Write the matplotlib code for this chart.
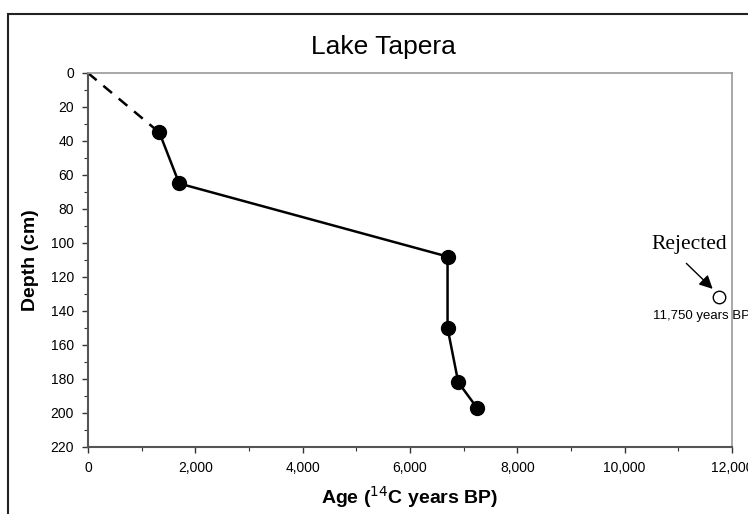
import numpy as np
import matplotlib.pyplot as plt
from matplotlib.patches import Rectangle

plt.rcParams['font.family'] = ['Liberation Sans', 'DejaVu Sans']

# Radiocarbon dates (accepted)
ages = [1330, 1700, 6700, 6700, 6900, 7250]
depths = [35, 65, 108, 150, 182, 197]

# Extrapolation to surface
surface_age = [0, 1330]
surface_depth = [0, 35]

# Rejected date
rejected_age = [11750]
rejected_depth = [132]

x_ticks = np.arange(0, 12001, 2000)
y_ticks = np.arange(0, 221, 20)

fig = plt.figure(figsize=(7.48, 5.14), dpi=100)
ax = fig.add_axes([0.1176, 0.1304, 0.8610, 0.7276])

# outer frame
fig.patches.append(Rectangle((8 / 748, -0.2), 1.2, 0.2 + 1 - 14 / 514,
                             transform=fig.transFigure, fill=False,
                             edgecolor="#222222", linewidth=1.5))

ax.plot(surface_age, surface_depth, color="black", linestyle=(0, (4.5, 3.5)),
        linewidth=1.8)
ax.plot(ages, depths, color="black", linewidth=1.8, marker="o",
        markersize=10)
ax.plot(rejected_age, rejected_depth, linestyle="none", marker="o",
        markersize=9, markerfacecolor="white", markeredgecolor="black",
        markeredgewidth=1.0, clip_on=False)

# "Rejected" label and arrow
ax.text(11200, 101, "Rejected", fontsize=15.5, family="Liberation Serif",
        ha="center", va="center", clip_on=False)
ax.annotate("", xy=(11640, 127), xytext=(11150, 112),
            arrowprops=dict(arrowstyle="-|>", color="black", lw=1.0,
                            mutation_scale=20, shrinkA=0, shrinkB=0),
            annotation_clip=False)
ax.text(10530, 143, "11,750 years BP", fontsize=9.5, ha="left", va="center",
        clip_on=False)

ax.set_xlim(0, 12000)
ax.set_ylim(220, 0)
ax.set_xticks(x_ticks)
ax.set_xticklabels([f"{v:,}" for v in x_ticks])
ax.set_yticks(y_ticks)
ax.set_xticks(np.arange(1000, 12000, 2000), minor=True)
ax.set_yticks(np.arange(10, 220, 20), minor=True)
ax.tick_params(axis="both", which="major", labelsize=10, length=4,
               width=1.0, color="#333333", pad=6)
ax.tick_params(axis="both", which="minor", length=3, width=0.8,
               color="#333333")

for side in ["top", "right"]:
    ax.spines[side].set_color("#999999")
    ax.spines[side].set_linewidth(1.2)
for side in ["bottom", "left"]:
    ax.spines[side].set_color("#555555")
    ax.spines[side].set_linewidth(1.5)

ax.set_xlabel("Age ($^{14}$C years BP)", fontsize=14, fontweight="bold",
              labelpad=7)
ax.set_ylabel("Depth (cm)", fontsize=14, fontweight="bold", labelpad=8)

fig.text(0.512, 0.908, "Lake Tapera", fontsize=19, ha="center", va="center")

plt.savefig("out.png", dpi=100)
